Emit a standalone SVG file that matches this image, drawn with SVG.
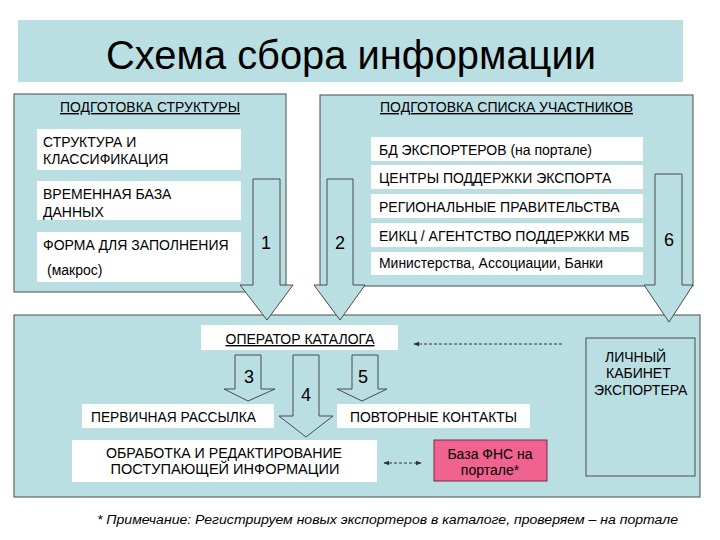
<svg xmlns="http://www.w3.org/2000/svg" width="720" height="540" viewBox="0 0 720 540">
<defs>
<style>
.panel{fill:#badfe3;stroke:#4a4a4a;stroke-width:1}
.wb{fill:#ffffff;stroke:none}
.t{font-family:"Liberation Sans",Arial,sans-serif;font-size:14px;fill:#000}
.n{font-family:"Liberation Sans",Arial,sans-serif;font-size:18px;fill:#000}
.arr{fill:#badfe3;stroke:#4a4a4a;stroke-width:1}
.dash{fill:none;stroke:#333;stroke-width:1;stroke-dasharray:3,2}
</style>
<marker id="ah" viewBox="0 0 10 10" refX="9" refY="5" markerWidth="6" markerHeight="6" orient="auto-start-reverse">
<path d="M0,1 L10,5 L0,9 z" fill="#333"/>
</marker>
</defs>
<rect width="720" height="540" fill="#ffffff"/>

<g id="title">
<rect x="18" y="20" width="665" height="62" fill="#badfe3"/>
<text x="351" y="69" text-anchor="middle" font-family="Liberation Sans,Arial,sans-serif" font-size="40" textLength="490" lengthAdjust="spacingAndGlyphs">Схема сбора информации</text>
</g>

<g id="panel-structure">
<rect class="panel" x="14" y="94" width="272" height="198"/>
<text class="t" x="60" y="112" text-decoration="underline" textLength="180" lengthAdjust="spacingAndGlyphs">ПОДГОТОВКА СТРУКТУРЫ</text>
<rect class="wb" x="37" y="129" width="204" height="41"/>
<text class="t" x="43" y="147">СТРУКТУРА И</text>
<text class="t" x="43" y="164">КЛАССИФИКАЦИЯ</text>
<rect class="wb" x="37" y="181" width="204" height="39"/>
<text class="t" x="43" y="199">ВРЕМЕННАЯ БАЗА</text>
<text class="t" x="43" y="217">ДАННЫХ</text>
<rect class="wb" x="37" y="232" width="204" height="50"/>
<text class="t" x="43" y="250">ФОРМА ДЛЯ ЗАПОЛНЕНИЯ</text>
<text class="t" x="47" y="275">(макрос)</text>
</g>

<g id="panel-participants">
<rect class="panel" x="320" y="95" width="373" height="191"/>
<text class="t" x="380" y="112" text-decoration="underline" textLength="253" lengthAdjust="spacingAndGlyphs">ПОДГОТОВКА СПИСКА УЧАСТНИКОВ</text>
<rect class="wb" x="371" y="137" width="272" height="24"/>
<text class="t" x="379" y="155">БД ЭКСПОРТЕРОВ (на портале)</text>
<rect class="wb" x="371" y="165" width="272" height="24"/>
<text class="t" x="379" y="183">ЦЕНТРЫ ПОДДЕРЖКИ ЭКСПОРТА</text>
<rect class="wb" x="371" y="194" width="272" height="24"/>
<text class="t" x="379" y="212">РЕГИОНАЛЬНЫЕ ПРАВИТЕЛЬСТВА</text>
<rect class="wb" x="371" y="223" width="272" height="24"/>
<text class="t" x="379" y="241">ЕИКЦ / АГЕНТСТВО ПОДДЕРЖКИ МБ</text>
<rect class="wb" x="371" y="252" width="272" height="23"/>
<text class="t" x="379" y="268" textLength="224" lengthAdjust="spacingAndGlyphs">Министерства, Ассоциации, Банки</text>
</g>

<g id="panel-catalog">
<rect class="panel" x="14" y="315" width="686" height="182"/>
</g>

<g id="operator">
<rect class="wb" x="201" y="325" width="197" height="25"/>
<text class="t" x="300" y="344" text-anchor="middle" font-size="13" text-decoration="underline" textLength="149" lengthAdjust="spacingAndGlyphs">ОПЕРАТОР КАТАЛОГА</text>
</g>

<g id="mailing">
<rect class="wb" x="82" y="404" width="192" height="24"/>
<text class="t" x="91" y="422" textLength="165" lengthAdjust="spacingAndGlyphs">ПЕРВИЧНАЯ РАССЫЛКА</text>
</g>

<g id="contacts">
<rect class="wb" x="337" y="404" width="193" height="24"/>
<text class="t" x="350" y="422" textLength="167" lengthAdjust="spacingAndGlyphs">ПОВТОРНЫЕ КОНТАКТЫ</text>
</g>

<g id="processing">
<rect class="wb" x="72" y="440" width="305" height="42"/>
<text class="t" x="224" y="458" text-anchor="middle" textLength="236" lengthAdjust="spacingAndGlyphs">ОБРАБОТКА И РЕДАКТИРОВАНИЕ</text>
<text class="t" x="225" y="474" text-anchor="middle" textLength="229" lengthAdjust="spacingAndGlyphs">ПОСТУПАЮЩЕЙ  ИНФОРМАЦИИ</text>
</g>

<g id="fns">
<rect x="434" y="440" width="113" height="41" fill="#f0628f" stroke="#7a2a45" stroke-width="1"/>
<text class="t" x="490" y="459" text-anchor="middle">База ФНС на</text>
<text class="t" x="490" y="475" text-anchor="middle">портале*</text>
</g>

<g id="cabinet">
<rect x="586" y="338" width="109" height="138" fill="#badfe3" stroke="#4a4a4a" stroke-width="1"/>
<text class="t" x="605" y="362">ЛИЧНЫЙ</text>
<text class="t" x="606" y="378">КАБИНЕТ</text>
<text class="t" x="594" y="395">ЭКСПОРТЕРА</text>
</g>

<g id="connectors">
<path class="arr" d="M253,179 L280,179 L280,285 L293,285 L267,320 L240,285 L253,285 Z"/>
<text class="n" x="266" y="249" text-anchor="middle">1</text>
<path class="arr" d="M327,179 L353,179 L353,285 L365,285 L340,320 L314,285 L327,285 Z"/>
<text class="n" x="340" y="249" text-anchor="middle">2</text>
<path class="arr" d="M655,174 L682,174 L682,285 L693,285 L669,322 L644,285 L655,285 Z"/>
<text class="n" x="669" y="246" text-anchor="middle">6</text>
<path class="arr" d="M235,355 L261,355 L261,389 L275,389 L248,401 L224,389 L235,389 Z"/>
<text class="n" x="249" y="383" text-anchor="middle" font-size="17">3</text>
<path class="arr" d="M293,355 L319,355 L319,416 L333,416 L306,437 L279,416 L293,416 Z"/>
<text class="n" x="306" y="401" text-anchor="middle" font-size="17">4</text>
<path class="arr" d="M352,355 L378,355 L378,389 L387,389 L362,401 L337,389 L352,389 Z"/>
<text class="n" x="363" y="383" text-anchor="middle" font-size="17">5</text>
<line class="dash" x1="562" y1="344" x2="414" y2="344" marker-end="url(#ah)"/>
<line class="dash" x1="384" y1="463" x2="421" y2="463" marker-start="url(#ah)" marker-end="url(#ah)"/>
</g>

<text x="97" y="524" font-family="Liberation Sans,Arial,sans-serif" font-size="13" font-style="italic" textLength="581" lengthAdjust="spacingAndGlyphs">* Примечание: Регистрируем новых экспортеров в каталоге, проверяем – на портале</text>
</svg>
